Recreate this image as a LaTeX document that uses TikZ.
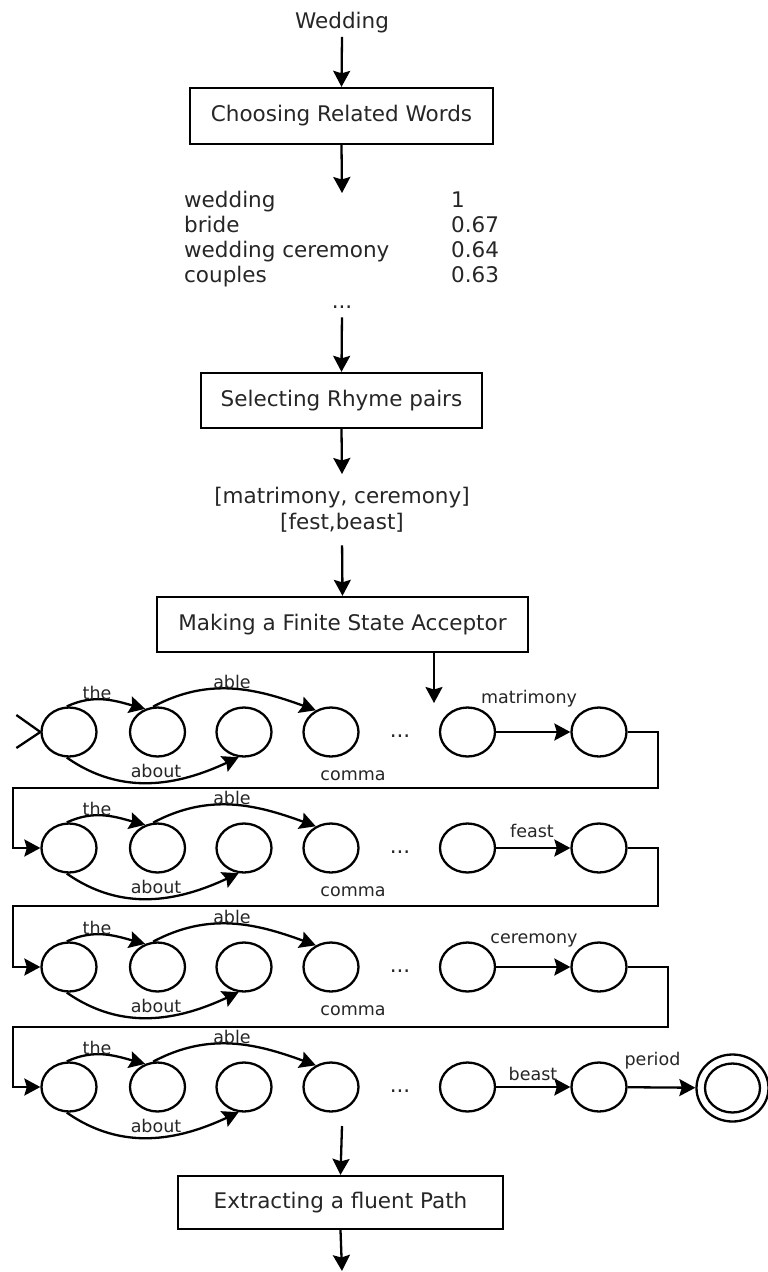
\documentclass[tikz,border=0pt]{standalone}
\usepackage{fontspec}
\setmainfont{DejaVu Sans}
\usetikzlibrary{shapes.geometric,arrows.meta}

\begin{document}
\begin{tikzpicture}[x=1pt,y=1pt,
  line width=2.3pt,
  every node/.style={text=black!85},
  big/.style={font=\fontsize{21.5}{26}\selectfont},
  small/.style={font=\fontsize{17.5}{20}\selectfont},
  stagebox/.style={draw, rectangle, big, inner sep=0pt},
  listtext/.style={big, anchor=base west, inner sep=0pt},
  state/.style={draw, ellipse, minimum width=55pt, minimum height=49pt, inner sep=0pt},
  arr/.style={-{Stealth[length=16pt,width=17pt,inset=2.5pt]}},
  lbl/.style={small, anchor=base, inner sep=0pt},
]
% canvas
\fill[white] (0,0) rectangle (768,-1272);
\useasboundingbox (0,0) rectangle (768,-1272);

% ---------- pipeline ----------
\node[big, anchor=base] (wed) at (342,-28) {Wedding};
\node[stagebox, minimum width=303pt, minimum height=56pt] (b1) at (341.5,-116) {Choosing Related Words};
\draw[arr] (wed.south) -- (b1.north);

\coordinate (listtop) at (342,-193);
\draw[arr] (b1.south) -- (listtop);

\node[listtext] (w1) at (183,-207) {wedding};
\node[listtext] (w2) at (183,-232) {bride};
\node[listtext] (w3) at (183,-257) {wedding ceremony};
\node[listtext] (w4) at (183,-282) {couples};
\node[listtext] (v1) at (450,-207) {1};
\node[listtext] (v2) at (450,-232) {0.67};
\node[listtext] (v3) at (450,-257) {0.64};
\node[listtext] (v4) at (450,-282) {0.63};
\node[big, anchor=base] (ldots) at (342,-308) {...};

\node[stagebox, minimum width=281pt, minimum height=55pt] (b2) at (341.5,-400.5) {Selecting Rhyme pairs};
\draw[arr, shorten <=5pt] (ldots.south) -- (b2.north);

\coordinate (pairtop) at (342,-474);
\draw[arr] (b2.south) -- (pairtop);
\node[big, anchor=base] (p1) at (342,-503) {[matrimony, ceremony]};
\node[big, anchor=base] (p2) at (342,-529) {[fest,beast]};

\node[stagebox, minimum width=371pt, minimum height=55pt] (b3) at (342.5,-624.5) {Making a Finite State Acceptor};
\draw[arr, shorten <=9pt] (p2.south) -- (b3.north);

\coordinate (fsa) at (434,-703);
\draw[arr] (b3.south -| fsa) -- (fsa);

% ---------- acceptor rows ----------
\foreach \r/\y in {1/732,2/848,3/967,4/1087} {
  \node[state] (r\r-s1) at (69,-\y) {};
  \node[state] (r\r-s2) at (157.5,-\y) {};
  \node[state] (r\r-s3) at (244,-\y) {};
  \node[state] (r\r-s4) at (331,-\y) {};
  \node[big, anchor=base] (r\r-dots) at (400,-\y-5) {...};
  \node[state] (r\r-s5) at (467.5,-\y) {};
  \node[state] (r\r-s6) at (599,-\y) {};
  \draw[arr] (r\r-s1.95) to[out=25,in=165] (r\r-s2.118);
  \draw[arr] (r\r-s2.100) to[out=28,in=160] (r\r-s4.125);
  \draw[arr] (r\r-s1.265) to[out=-35,in=-155] (r\r-s3.258);
  \node[lbl] (r\r-the) at (97,-\y+33) {the};
  \node[lbl] (r\r-able) at (232,-\y+44) {able};
  \node[lbl] (r\r-about) at (156,-\y-45) {about};
  \draw[arr] (r\r-s5) -- (r\r-s6);
}
\foreach \r/\y in {1/732,2/848,3/967} {
  \node[lbl] (r\r-comma) at (353,-\y-48) {comma};
}

% start marker
\draw (r1-s1.west) -- ++(-24,17);
\draw (r1-s1.west) -- ++(-24,-16);

% word labels on the rhyme transitions
\node[lbl] (l1) at (529,-703) {matrimony};
\node[lbl] (l2) at (532,-837) {feast};
\node[lbl] (l3) at (534,-943) {ceremony};
\node[lbl] (l4) at (533,-1080) {beast};

% final state
\node[state, minimum width=72pt, minimum height=67pt] (finout) at (732.5,-1088) {};
\node[state] (fin) at (732.5,-1088) {};
\draw[arr] (r4-s6) -- (finout);
\node[lbl] (lp) at (652.5,-1065) {period};

% links between rows
\draw[arr] (r1-s6.east) -- (658,-732) |- (13,-788) |- (r2-s1.west);
\draw[arr] (r2-s6.east) -- (658,-848) |- (13,-906) |- (r3-s1.west);
\draw[arr] (r3-s6.east) -- (668,-967) |- (13,-1027) |- (r4-s1.west);

% ---------- path extraction ----------
\coordinate (r4out) at (342,-1126);
\node[stagebox, minimum width=325pt, minimum height=53pt] (b4) at (340.5,-1202.5) {Extracting a fluent Path};
\draw[arr] (r4out) -- (b4.north);
\coordinate (endpt) at (342,-1271);
\draw[arr] (b4.south) -- (endpt);
\end{tikzpicture}
\end{document}
